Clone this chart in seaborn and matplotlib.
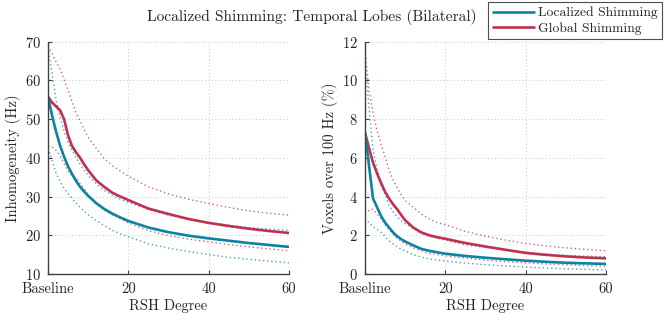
import numpy as np
import pandas as pd
import matplotlib
matplotlib.use("Agg")
import matplotlib.pyplot as plt
import seaborn as sns

degree = [0, 1, 2, 3, 4, 5, 6, 7, 8, 9, 10, 12, 14, 16, 18, 20, 25, 30, 35, 40, 45, 50, 55, 60]
tick_values = [0, 20, 40, 60]
tick_labels = ["Baseline", "20", "40", "60"]

# Inhomogeneity (Hz)
hz_local = [55.8, 51.0, 46.8, 43.2, 40.3, 37.8, 35.8, 34.0, 32.5, 31.3, 30.2, 28.3, 26.8, 25.6, 24.6, 23.7, 22.0, 20.8, 19.9, 19.2, 18.6, 18.0, 17.5, 17.0]
hz_local_hi = [68.5, 62.0, 55.0, 50.5, 47.0, 44.0, 41.8, 40.0, 38.3, 36.8, 35.5, 33.3, 31.6, 30.3, 29.3, 28.5, 26.7, 25.2, 24.1, 23.3, 22.6, 22.0, 21.6, 21.3]
hz_local_lo = [42.5, 39.5, 36.0, 34.0, 32.0, 30.8, 29.5, 28.3, 27.2, 26.2, 25.3, 23.8, 22.5, 21.3, 20.4, 19.6, 17.8, 16.7, 15.8, 15.0, 14.3, 13.8, 13.3, 12.9]
hz_global = [55.8, 54.3, 53.3, 52.3, 50.0, 45.8, 43.0, 41.4, 40.0, 38.3, 36.8, 34.2, 32.5, 31.0, 30.0, 29.1, 26.9, 25.5, 24.2, 23.2, 22.4, 21.7, 21.1, 20.6]
hz_global_hi = [68.9, 67.0, 64.8, 63.0, 60.3, 57.5, 54.5, 51.5, 49.5, 47.3, 45.3, 42.5, 39.8, 38.0, 36.6, 35.3, 32.5, 30.7, 29.3, 28.2, 27.2, 26.3, 25.7, 25.2]
hz_global_lo = [43.0, 42.8, 42.0, 40.5, 38.5, 36.5, 35.5, 34.8, 33.3, 32.0, 30.5, 28.0, 26.5, 25.3, 24.3, 23.2, 21.2, 19.9, 19.0, 18.3, 17.6, 17.0, 16.5, 16.0]

# Voxels over 100 Hz (%)
pct_local = [7.3, 5.6, 3.9, 3.45, 3.0, 2.65, 2.4, 2.15, 1.95, 1.8, 1.68, 1.48, 1.3, 1.2, 1.12, 1.05, 0.93, 0.84, 0.76, 0.69, 0.63, 0.58, 0.55, 0.52]
pct_local_hi = [11.0, 8.6, 6.4, 5.4, 4.6, 4.1, 3.56, 3.2, 2.95, 2.75, 2.6, 2.36, 2.1, 1.95, 1.85, 1.76, 1.5, 1.38, 1.25, 1.12, 1.03, 0.96, 0.92, 0.89]
pct_local_lo = [2.88, 2.65, 2.44, 2.3, 2.15, 1.95, 1.7, 1.55, 1.4, 1.28, 1.2, 1.0, 0.87, 0.78, 0.72, 0.67, 0.56, 0.48, 0.42, 0.36, 0.31, 0.27, 0.24, 0.21]
pct_global = [7.3, 6.5, 5.75, 5.2, 4.7, 4.25, 3.9, 3.6, 3.35, 3.05, 2.78, 2.4, 2.15, 2.0, 1.9, 1.82, 1.6, 1.42, 1.25, 1.09, 0.99, 0.91, 0.85, 0.81]
pct_global_hi = [11.6, 9.5, 8.3, 7.4, 6.7, 6.05, 5.35, 4.85, 4.45, 4.1, 3.8, 3.45, 3.1, 2.85, 2.65, 2.55, 2.2, 1.95, 1.75, 1.58, 1.45, 1.35, 1.27, 1.2]
pct_global_lo = [3.1, 3.3, 3.35, 3.1, 2.85, 2.55, 2.3, 2.05, 1.85, 1.7, 1.55, 1.35, 1.2, 1.08, 1.0, 0.94, 0.82, 0.72, 0.64, 0.58, 0.52, 0.48, 0.44, 0.41]

series_names = ["Localized Shimming", "Global Shimming"]
title = "Localized Shimming: Temporal Lobes (Bilateral)"

BLUE = "#0b84a3"
RED = "#c2304f"

sns.set_theme(style="ticks")
plt.rcParams["font.family"] = ["cmr10", "DejaVu Serif"]
plt.rcParams["mathtext.fontset"] = "cm"
plt.rcParams["axes.formatter.use_mathtext"] = True

fig = plt.figure(figsize=(6.64, 3.2), dpi=100)
ax1 = fig.add_axes([48 / 664, 46 / 320, 241 / 664, 232.3 / 320])
ax2 = fig.add_axes([365 / 664, 46 / 320, 241 / 664, 232.3 / 320])

def draw(ax, loc, loc_hi, loc_lo, glo, glo_hi, glo_lo, ylim, yticks, ylabel):
    df = pd.DataFrame({"x": degree, "loc": loc, "loc_hi": loc_hi, "loc_lo": loc_lo,
                       "glo": glo, "glo_hi": glo_hi, "glo_lo": glo_lo})
    for col, c in [("loc_hi", BLUE), ("loc_lo", BLUE), ("glo_hi", RED), ("glo_lo", RED)]:
        sns.lineplot(data=df, x="x", y=col, ax=ax, color=c, lw=1.0, ls=(0, (1, 2)), alpha=0.75)
    sns.lineplot(data=df, x="x", y="glo", ax=ax, color=RED, lw=1.9, label=series_names[1], legend=False)
    sns.lineplot(data=df, x="x", y="loc", ax=ax, color=BLUE, lw=1.9, label=series_names[0], legend=False)
    ax.set_xlim(0, 60)
    ax.set_ylim(*ylim)
    ax.set_xticks(tick_values)
    ax.set_xticklabels(tick_labels)
    ax.set_yticks(yticks)
    ax.grid(True, ls=(0, (1, 2.5)), color="#c8c8c8", lw=0.7)
    for s in ["top", "right"]:
        ax.spines[s].set_visible(False)
    for s in ["left", "bottom"]:
        ax.spines[s].set_color("#404040")
        ax.spines[s].set_linewidth(1.0)
    ax.tick_params(direction="in", length=3, width=0.8, color="#404040",
                   labelsize=10.5, labelcolor="#262626")
    ax.tick_params(axis="x", pad=6)
    ax.tick_params(axis="y", pad=5)
    ax.set_xlabel("RSH Degree", fontsize=10.5, color="#262626", labelpad=2)
    ax.set_ylabel(ylabel, fontsize=10.5, color="#262626", labelpad=3)

draw(ax1, hz_local, hz_local_hi, hz_local_lo, hz_global, hz_global_hi, hz_global_lo,
     (10, 70), [10, 20, 30, 40, 50, 60, 70], "Inhomogeneity (Hz)")
draw(ax2, pct_local, pct_local_hi, pct_local_lo, pct_global, pct_global_hi, pct_global_lo,
     (0, 12), [0, 2, 4, 6, 8, 10, 12], "Voxels over 100 Hz (%)")

fig.text(312 / 664, 1 - 17 / 320, title, ha="center", va="center", fontsize=11.1, color="#262626")

handles = [plt.Line2D([], [], color=BLUE, lw=1.9), plt.Line2D([], [], color=RED, lw=1.9)]
leg = fig.legend(handles, series_names, loc="upper right", bbox_to_anchor=(662 / 664, 1 - 2 / 320),
                 frameon=True, fancybox=False, fontsize=9.8, handlelength=3.0, handletextpad=0.3,
                 borderpad=0.35, labelspacing=0.2, borderaxespad=0)
leg.get_frame().set_edgecolor("#202020")
leg.get_frame().set_linewidth(0.8)

fig.savefig("out.png", dpi=100)
